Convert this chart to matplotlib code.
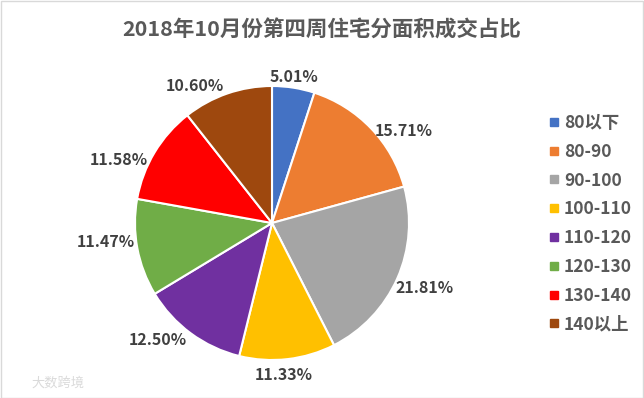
import matplotlib

matplotlib.use("Agg")

import numpy as np
import matplotlib.pyplot as plt
from matplotlib.lines import Line2D
from matplotlib.patches import Rectangle

plt.rcParams["font.family"] = ["Noto Sans CJK SC", "DejaVu Sans"]

title = "2018年10月份第四周住宅分面积成交占比"
categories = ["80以下", "80-90", "90-100", "100-110", "110-120", "120-130", "130-140", "140以上"]
shares = [5.01, 15.71, 21.81, 11.33, 12.50, 11.47, 11.58, 10.60]
colors = ["#4472C4", "#ED7D31", "#A5A5A5", "#FFC000", "#7030A0", "#70AD47", "#FF0000", "#9E480E"]

# label layout (Excel "best fit" nudges): angle offset in degrees, distance in radii
label_nudge = [0.4, -8.8, 0.9, -2, -7.9, -4, 8.6, 10.3]
label_dist = [1.08, 1.17, 1.21, 1.11, 1.19, 1.22, 1.21, 1.15]

title_color = "#595959"
label_color = "#404040"

fig = plt.figure(figsize=(6.44, 3.98), dpi=100)
fig.patches.append(Rectangle((0.001, 0.001), 0.997, 0.996, transform=fig.transFigure,
                             fill=False, edgecolor="#D9D9D9", linewidth=1))

cx, cy, r = 272, 223, 137
ax = fig.add_axes([(cx - r) / 644, (398 - cy - r) / 398, 2 * r / 644, 2 * r / 398])
wedges, _ = ax.pie(shares, colors=colors, startangle=90, counterclock=False,
                   wedgeprops=dict(edgecolor="white", linewidth=1.5), radius=1)
ax.set_xlim(-1, 1)
ax.set_ylim(-1, 1)
ax.set_aspect("equal")
ax.axis("off")

for w, val, nudge, dist in zip(wedges, shares, label_nudge, label_dist):
    ang = np.deg2rad((w.theta1 + w.theta2) / 2 + nudge)
    ax.text(dist * np.cos(ang), dist * np.sin(ang), f"{val:.2f}%",
            ha="center", va="center", fontsize=11.5, fontweight="bold",
            color=label_color, clip_on=False)

fig.text(0.5, 0.925, title, ha="center", va="center", fontsize=15.5,
         fontweight="bold", color=title_color)

handles = [Line2D([], [], linestyle="none", marker="s", markersize=6,
                  markerfacecolor=c, markeredgecolor=c) for c in colors]
fig.legend(handles, categories, loc="upper left", bbox_to_anchor=(549 / 644, 1 - 114 / 398),
           frameon=False, borderpad=0, borderaxespad=0,
           handlelength=0.6, handletextpad=0.25, labelspacing=0.62,
           prop=dict(size=12.5, weight="bold"), labelcolor=title_color)

fig.text(58 / 644, 1 - 383 / 398, "大数跨境", ha="center", va="center",
         fontsize=9.5, color="#DADADA")

fig.savefig("out.png", dpi=100)
plt.close(fig)
